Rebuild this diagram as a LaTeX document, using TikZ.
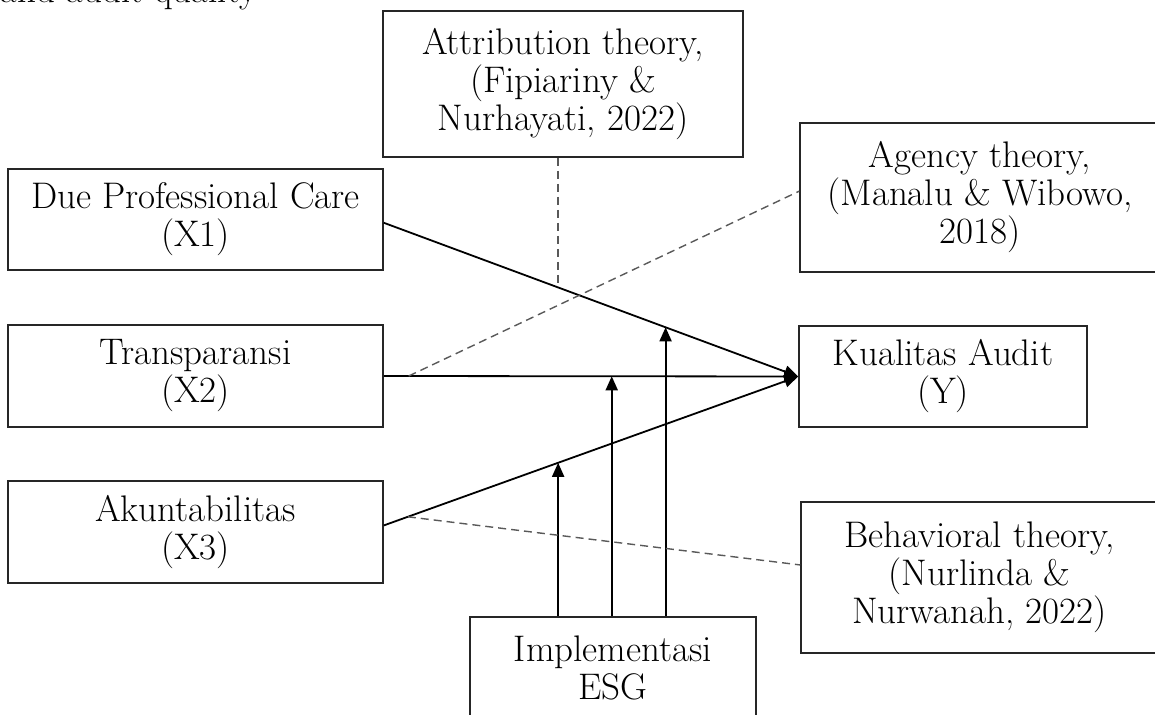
\documentclass[tikz,border=0pt]{standalone}
\usepackage{amsmath}
\usetikzlibrary{arrows.meta}
\tikzset{
  box/.style={draw=black!85, line width=0.8pt, align=center, inner sep=0pt, font=\fontsize{18.5}{19}\selectfont},
  arr/.style={-{Triangle[length=7pt,width=6pt]}, line width=0.9pt},
  dline/.style={dash pattern=on 4pt off 2.5pt, draw=black!65, line width=0.7pt}
}
\begin{document}
\begin{tikzpicture}[x=0.5pt, y=-0.5pt]
\useasboundingbox (0,0) rectangle (1155,715);
\node[anchor=base west, inner sep=0pt, font=\fontsize{18.5}{19}\selectfont] (cap) at (0,3) {and audit quality};

\node[box, minimum width=180pt, minimum height=73pt] (attr) at (563,84) {Attribution theory,\\(Fipiariny \&\\Nurhayati, 2022)};
\node[box, minimum width=187.5pt, minimum height=50.5pt] (due) at (195.5,219.5) {Due Professional Care\\(X1)};
\node[box, minimum width=180pt, minimum height=74.5pt] (agency) at (980,197.5) {Agency theory,\\(Manalu \& Wibowo,\\2018)};
\node[box, minimum width=187.5pt, minimum height=51pt] (transp) at (195.5,376) {Transparansi\\(X2)};
\node[box, minimum width=144pt, minimum height=50.5pt] (kual) at (943,376.5) {Kualitas Audit\\(Y)};
\node[box, minimum width=187.5pt, minimum height=51pt] (akun) at (195.5,532) {Akuntabilitas\\(X3)};
\node[box, minimum width=178.5pt, minimum height=75.5pt] (behav) at (979.5,577.5) {Behavioral theory,\\(Nurlinda \&\\Nurwanah, 2022)};
\node[box, minimum width=143pt, minimum height=50.5pt] (esg) at (613,667.5) {Implementasi\\ESG};

\draw[arr] (due.-1) -- (kual.west) coordinate[pos=0.4207] (d1) coordinate[pos=0.68] (d3);
\draw[arr] (transp.east) -- (kual.west) coordinate[pos=0.06] (t0) coordinate[pos=0.55] (t1);
\draw[arr] (akun.2) -- (kual.west) coordinate[pos=0.058] (a0) coordinate[pos=0.4207] (a1);

\draw[arr] (esg.north -| a1) -- (a1);
\draw[arr] (esg.north -| t1) -- (t1);
\draw[arr] (esg.north -| d3) -- (d3);

\draw[dline] (attr.south -| d1) -- (d1);
\draw[dline] (t0) -- (agency.178);
\draw[dline] (a0) -- (behav.176);
\end{tikzpicture}
\end{document}
